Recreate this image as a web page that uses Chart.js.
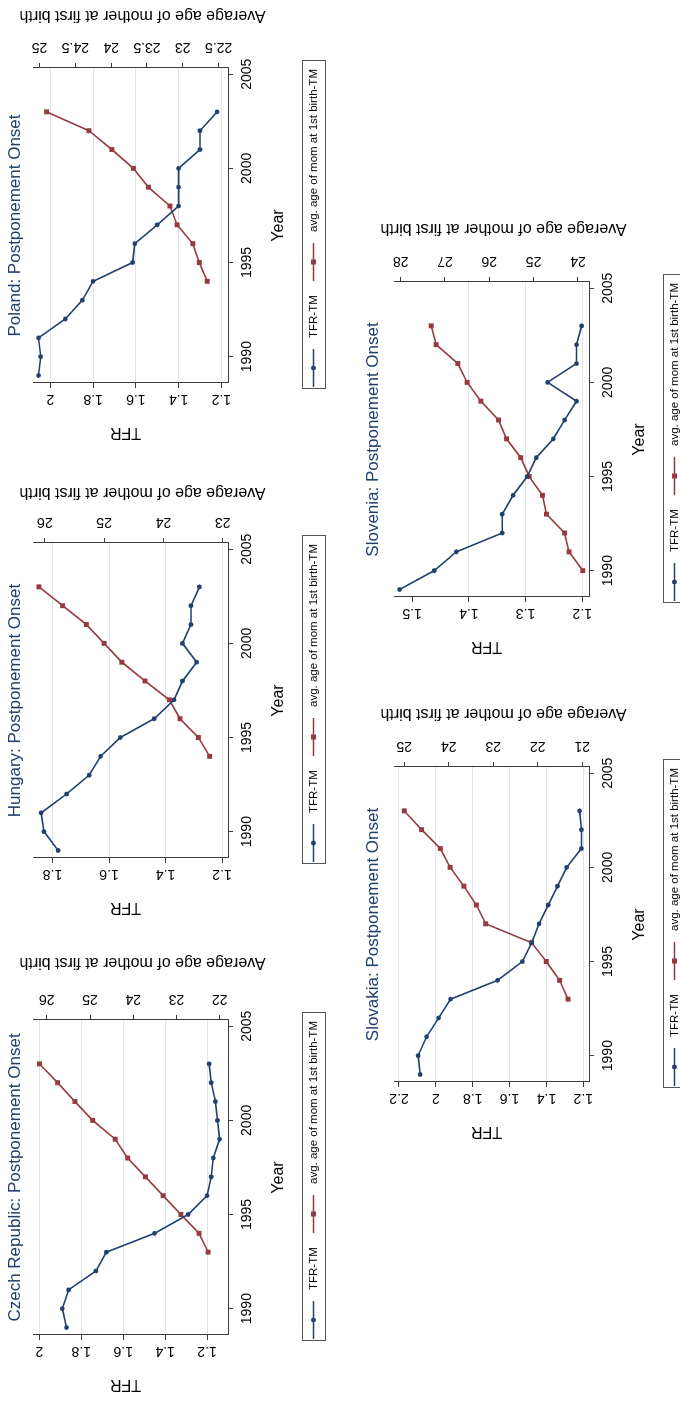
<!DOCTYPE html>
<html>
<head>
<meta charset="utf-8">
<script src="https://cdn.jsdelivr.net/npm/chart.js@4.4.1/dist/chart.umd.min.js"></script>
<style>
  html, body { margin: 0; padding: 0; background: #fff; overflow: hidden; }
  /* the figure is laid out landscape and turned a quarter turn, like the printed page */
  #page {
    position: absolute; left: 0; top: 0; width: 1401px; height: 680px; overflow: hidden;
    background: #fff; transform-origin: 0 0; transform: translateY(1401px) rotate(-90deg);
  }
  #page canvas { position: absolute; }
</style>
</head>
<body>
<div id="page"></div>
<script>
const years = [1989, 1990, 1991, 1992, 1993, 1994, 1995, 1996, 1997, 1998, 1999, 2000, 2001, 2002, 2003]
const yearTicks = [1990, 1995, 2000, 2005]

const czechTfr = [1.87, 1.89, 1.86, 1.73, 1.68, 1.45, 1.29, 1.20, 1.18, 1.17, 1.14, 1.15, 1.16, 1.18, 1.19]
const czechAge = [null, null, null, null, 22.27, 22.48, 22.90, 23.31, 23.72, 24.13, 24.42, 24.94, 25.35, 25.75, 26.17]
const czechTfrTicks = [1.2, 1.4, 1.6, 1.8, 2]
const czechAgeTicks = [22, 23, 24, 25, 26]

const hungaryTfr = [1.78, 1.83, 1.84, 1.75, 1.67, 1.63, 1.56, 1.44, 1.37, 1.34, 1.29, 1.34, 1.31, 1.31, 1.28]
const hungaryAge = [null, null, null, null, null, 23.22, 23.41, 23.72, 23.90, 24.31, 24.70, 25.00, 25.30, 25.70, 26.10]
const hungaryTfrTicks = [1.2, 1.4, 1.6, 1.8]
const hungaryAgeTicks = [23, 24, 25, 26]

const polandTfr = [2.055, 2.045, 2.055, 1.93, 1.85, 1.80, 1.615, 1.605, 1.50, 1.40, 1.40, 1.40, 1.30, 1.30, 1.22]
const polandAge = [null, null, null, null, null, 22.66, 22.77, 22.86, 23.08, 23.18, 23.48, 23.69, 23.99, 24.31, 24.90]
const polandTfrTicks = [1.2, 1.4, 1.6, 1.8, 2]
const polandAgeTicks = [22.5, 23, 23.5, 24, 24.5, 25]

const slovakiaTfr = [2.085, 2.096, 2.05, 1.985, 1.92, 1.665, 1.53, 1.48, 1.44, 1.39, 1.34, 1.29, 1.21, 1.21, 1.22]
const slovakiaAge = [null, null, null, null, 21.32, 21.51, 21.81, 22.14, 23.17, 23.38, 23.66, 23.97, 24.19, 24.61, 25.00]
const slovakiaTfrTicks = [1.2, 1.4, 1.6, 1.8, 2, 2.2]
const slovakiaAgeTicks = [21, 22, 23, 24, 25]

const sloveniaTfr = [1.522, 1.461, 1.422, 1.341, 1.341, 1.322, 1.297, 1.281, 1.251, 1.231, 1.21, 1.261, 1.21, 1.21, 1.201]
const sloveniaAge = [null, 23.89, 24.20, 24.30, 24.71, 24.80, 25.10, 25.29, 25.61, 25.79, 26.19, 26.50, 26.71, 27.20, 27.31]
const sloveniaTfrTicks = [1.2, 1.3, 1.4, 1.5]
const sloveniaAgeTicks = [24, 25, 26, 27, 28]

const navy = '#22406e'
const maroon = '#973a40'
const gridColor = '#dfe4e9'
const axisColor = '#3c3c3c'
const font = '"Liberation Sans", Arial, Helvetica, sans-serif'

// canvas offsets inside the landscape page; every canvas has the same inner layout
const panels = [
  { title: 'Czech Republic: Postponement Onset', tfr: czechTfr, age: czechAge, tfrTicks: czechTfrTicks, ageTicks: czechAgeTicks,
    tfrRange: [1.10, 2.03], ageRange: [21.81, 26.32], left: 0, top: 0, titleY: 20, ageTitleGap: 62 },
  { title: 'Hungary: Postponement Onset', tfr: hungaryTfr, age: hungaryAge, tfrTicks: hungaryTfrTicks, ageTicks: hungaryAgeTicks,
    tfrRange: [1.179, 1.869], ageRange: [22.91, 26.2], left: 477, top: 0, titleY: 20, ageTitleGap: 55 },
  { title: 'Poland: Postponement Onset', tfr: polandTfr, age: polandAge, tfrTicks: polandTfrTicks, ageTicks: polandAgeTicks,
    tfrRange: [1.169, 2.081], ageRange: [22.37, 25.09], left: 952, top: 0, titleY: 20, ageTitleGap: 57 },
  { title: 'Slovakia: Postponement Onset', tfr: slovakiaTfr, age: slovakiaAge, tfrTicks: slovakiaTfrTicks, ageTicks: slovakiaAgeTicks,
    tfrRange: [1.169, 2.227], ageRange: [20.85, 25.23], left: 253, top: 361, titleY: 17, ageTitleGap: 58 },
  { title: 'Slovenia: Postponement Onset', tfr: sloveniaTfr, age: sloveniaAge, tfrTicks: sloveniaTfrTicks, ageTicks: sloveniaAgeTicks,
    tfrRange: [1.188, 1.532], ageRange: [23.75, 28.15], left: 738, top: 361, titleY: 17, ageTitleGap: 58, noGrid: [1.5] }
]

const points = (values) => years.map((x, i) => ({ x, y: values[i] }))

// Stata writes the y labels and titles turned to read upwards, on both sides
const upText = (ctx, text, x, y) => {
  ctx.save()
  ctx.translate(x, y)
  ctx.rotate(-Math.PI / 2)
  ctx.fillText(text, 0, 0)
  ctx.restore()
}

const stataText = {
  id: 'stataText',
  afterDraw(chart, args, opts) {
    const { ctx, chartArea: a, scales } = chart
    const mid = (a.left + a.right) / 2
    const vmid = (a.top + a.bottom) / 2
    ctx.save()
    ctx.textAlign = 'center'
    ctx.textBaseline = 'alphabetic'

    ctx.fillStyle = navy
    ctx.font = '17px ' + font
    ctx.fillText(opts.title, mid, opts.titleY)

    ctx.fillStyle = '#000'
    ctx.font = '14px ' + font
    scales.y.ticks.forEach((t) => upText(ctx, String(t.value), a.left - 12.5, scales.y.getPixelForValue(t.value)))
    scales.y1.ticks.forEach((t) => upText(ctx, String(t.value), a.right + 25, scales.y1.getPixelForValue(t.value)))

    ctx.font = '16px ' + font
    upText(ctx, 'TFR', a.left - 45, vmid - 5)
    upText(ctx, 'Average age of mother at first birth', a.right + opts.ageTitleGap, vmid + 12)
    ctx.fillText('Year', mid, a.bottom + 55)

    // legend: line with its marker, then the label
    const lx = a.left - 6
    const ly = a.bottom + 74
    const lw = a.right - a.left + 13
    const lh = 23
    const cy = ly + lh / 2
    ctx.strokeStyle = '#555'
    ctx.lineWidth = 1
    ctx.strokeRect(Math.round(lx) + 0.5, Math.round(ly) + 0.5, lw, lh)
    ctx.font = '11.5px ' + font
    ctx.textAlign = 'left'
    ctx.textBaseline = 'middle'
    const keys = [lx + 2, lx + 108]
    chart.data.datasets.forEach((ds, i) => {
      const kx = keys[i]
      ctx.strokeStyle = ds.borderColor
      ctx.lineWidth = 1.6
      ctx.beginPath()
      ctx.moveTo(kx, cy)
      ctx.lineTo(kx + 38, cy)
      ctx.stroke()
      ctx.fillStyle = ds.borderColor
      if (ds.pointStyle === 'rect') {
        ctx.fillRect(kx + 19 - 2.5, cy - 2.5, 5, 5)
      } else {
        ctx.beginPath()
        ctx.arc(kx + 19, cy, 2.4, 0, Math.PI * 2)
        ctx.fill()
      }
      ctx.fillStyle = '#000'
      ctx.fillText(ds.label, kx + 49, cy + 0.5)
    })
    ctx.restore()
  }
}

const page = document.getElementById('page')

panels.forEach((p) => {
  const canvas = document.createElement('canvas')
  canvas.width = 447
  canvas.height = 340
  canvas.style.left = p.left + 'px'
  canvas.style.top = p.top + 'px'
  page.appendChild(canvas)

  const setTicks = (values) => (axis) => { axis.ticks = values.map((value) => ({ value })) }
  const hidden = p.noGrid || []

  new Chart(canvas, {
    type: 'line',
    data: {
      datasets: [
        { label: 'TFR-TM', data: points(p.tfr), yAxisID: 'y', borderColor: navy, backgroundColor: navy,
          borderWidth: 1.6, pointStyle: 'circle', pointRadius: 2.4, pointBorderWidth: 0 },
        { label: 'avg. age of mom at 1st birth-TM', data: points(p.age), yAxisID: 'y1', borderColor: maroon, backgroundColor: maroon,
          borderWidth: 1.6, pointStyle: 'rect', pointRadius: 3.5, pointBorderWidth: 0 }
      ]
    },
    plugins: [stataText],
    options: {
      responsive: false,
      animation: false,
      devicePixelRatio: 1,
      layout: { padding: { top: 33, left: 0, right: 0, bottom: 0 } },
      scales: {
        x: {
          type: 'linear',
          min: 1988.6,
          max: 2005.33,
          afterBuildTicks: setTicks(yearTicks),
          afterFit: (s) => { s.height = 112 },
          grid: { drawOnChartArea: false, tickLength: 5, tickColor: axisColor },
          border: { color: axisColor, width: 1 },
          ticks: { color: '#000', font: { size: 14, family: font }, padding: 6, maxRotation: 0, callback: (v) => String(v) }
        },
        y: {
          position: 'left',
          min: p.tfrRange[0],
          max: p.tfrRange[1],
          afterBuildTicks: setTicks(p.tfrTicks),
          afterFit: (s) => { s.width = 66 },
          grid: {
            color: (c) => (c.tick && hidden.includes(c.tick.value) ? 'rgba(0,0,0,0)' : gridColor),
            tickLength: 5,
            tickColor: axisColor
          },
          border: { color: axisColor, width: 1 },
          ticks: { display: false }
        },
        y1: {
          position: 'right',
          min: p.ageRange[0],
          max: p.ageRange[1],
          afterBuildTicks: setTicks(p.ageTicks),
          afterFit: (s) => { s.width = 66 },
          grid: { drawOnChartArea: false, tickLength: 5, tickColor: axisColor },
          border: { color: axisColor, width: 1 },
          ticks: { display: false }
        }
      },
      plugins: {
        legend: { display: false },
        tooltip: { enabled: false },
        stataText: { title: p.title, titleY: p.titleY, ageTitleGap: p.ageTitleGap }
      }
    }
  })
})
</script>
</body>
</html>
